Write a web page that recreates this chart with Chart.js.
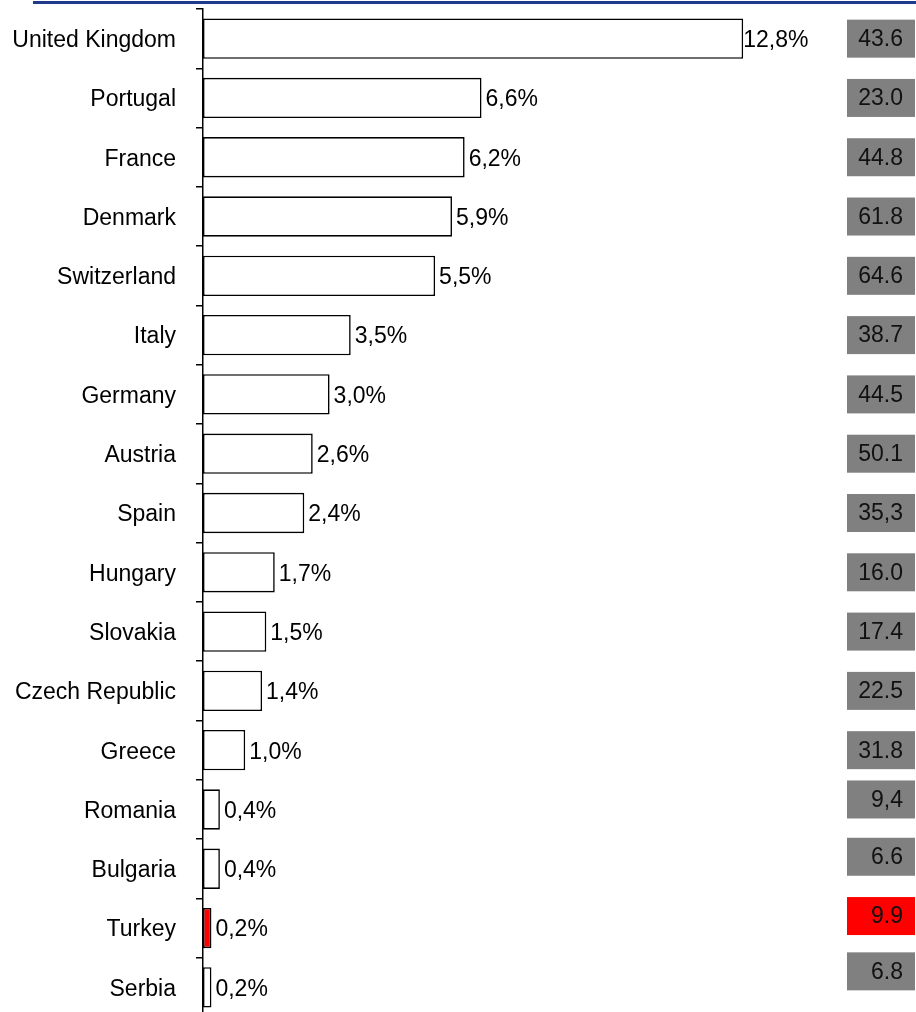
<!DOCTYPE html>
<html>
<head>
<meta charset="utf-8">
<script src="https://cdn.jsdelivr.net/npm/chart.js@4/dist/chart.umd.min.js"></script>
<style>
  html, body { margin: 0; padding: 0; background: #ffffff; overflow: hidden; width: 916px; height: 1012px; }
  #rule { position: absolute; left: 33px; top: 1px; width: 883px; height: 3px; background: #1f3a8c; }
  #wrap { position: absolute; left: 0; top: 0; width: 916px; height: 1017px; }
</style>
</head>
<body>
<div id="rule"></div>
<div id="wrap"><canvas id="chart"></canvas></div>
<script>
// Countries, in ranking order
const countries = [
  'United Kingdom', 'Portugal', 'France', 'Denmark', 'Switzerland', 'Italy',
  'Germany', 'Austria', 'Spain', 'Hungary', 'Slovakia', 'Czech Republic',
  'Greece', 'Romania', 'Bulgaria', 'Turkey', 'Serbia'
];
// Share per country, %
const shares = [12.8, 6.6, 6.2, 5.9, 5.5, 3.5, 3.0, 2.6, 2.4, 1.7, 1.5, 1.4, 1.0, 0.4, 0.4, 0.2, 0.2];
// Side column figures, as printed
const sideValues = ['43.6', '23.0', '44.8', '61.8', '64.6', '38.7', '44.5', '50.1', '35,3',
                    '16.0', '17.4', '22.5', '31.8', '9,4', '6.6', '9.9', '6.8'];
const highlighted = 'Turkey';

// Vertical nudge of the side column boxes (layout only)
const sideBoxShift = [0, 0, 0, 0, 0, 0, 0, 0, 0, 0, 0, 0, 0, -10, -12, -12, -16];

const FONT = '"Liberation Sans", Arial, sans-serif';
const isHi = i => countries[i] === highlighted;

// Percent labels at the end of each bar
const barLabels = {
  id: 'barLabels',
  afterDatasetsDraw(chart) {
    const ctx = chart.ctx;
    const meta = chart.getDatasetMeta(0);
    ctx.save();
    ctx.font = '23px ' + FONT;
    ctx.fillStyle = '#000000';
    ctx.textAlign = 'left';
    ctx.textBaseline = 'middle';
    meta.data.forEach((bar, i) => {
      const txt = shares[i].toFixed(1).replace('.', ',') + '%';
      const gap = i === 0 ? 0 : 4;
      ctx.fillText(txt, bar.x + gap, bar.y + 2);
    });
    ctx.restore();
  }
};

// Grey side column boxes
const sideColumn = {
  id: 'sideColumn',
  afterDraw(chart) {
    const ctx = chart.ctx;
    const y = chart.scales.y;
    ctx.save();
    ctx.font = '23px ' + FONT;
    ctx.textAlign = 'right';
    ctx.textBaseline = 'middle';
    sideValues.forEach((v, i) => {
      const cy = y.getPixelForValue(i) + sideBoxShift[i];
      ctx.fillStyle = isHi(i) ? '#ff0000' : '#808080';
      ctx.fillRect(847, cy - 19, 68, 38);
      ctx.fillStyle = '#111111';
      ctx.fillText(v, 903, cy + 1);
    });
    ctx.restore();
  }
};

new Chart(document.getElementById('chart'), {
  type: 'bar',
  data: {
    labels: countries,
    datasets: [{
      data: shares,
      backgroundColor: c => isHi(c.dataIndex) ? '#ff0000' : '#ffffff',
      borderColor: '#000000',
      borderWidth: 1.6,
      borderSkipped: false,
      barPercentage: 0.68,
      categoryPercentage: 1
    }]
  },
  options: {
    indexAxis: 'y',
    responsive: true,
    maintainAspectRatio: false,
    animation: false,
    layout: { padding: { top: 9, right: 80, bottom: 0, left: 0 } },
    plugins: { legend: { display: false }, tooltip: { enabled: false } },
    scales: {
      x: { display: false, min: 0, max: 15 },
      y: {
        afterFit(scale) {
          scale.width = 203;
          scale.paddingTop = 0;
          scale.paddingBottom = 0;
        },
        border: { color: '#000000', width: 1.5 },
        grid: { drawOnChartArea: false, drawTicks: true, tickLength: 7, color: '#000000', lineWidth: 1.5, offset: true },
        ticks: { color: '#000000', font: { family: FONT, size: 23 }, padding: 20, autoSkip: false, labelOffset: 2 }
      }
    }
  },
  plugins: [barLabels, sideColumn]
});
</script>
</body>
</html>
